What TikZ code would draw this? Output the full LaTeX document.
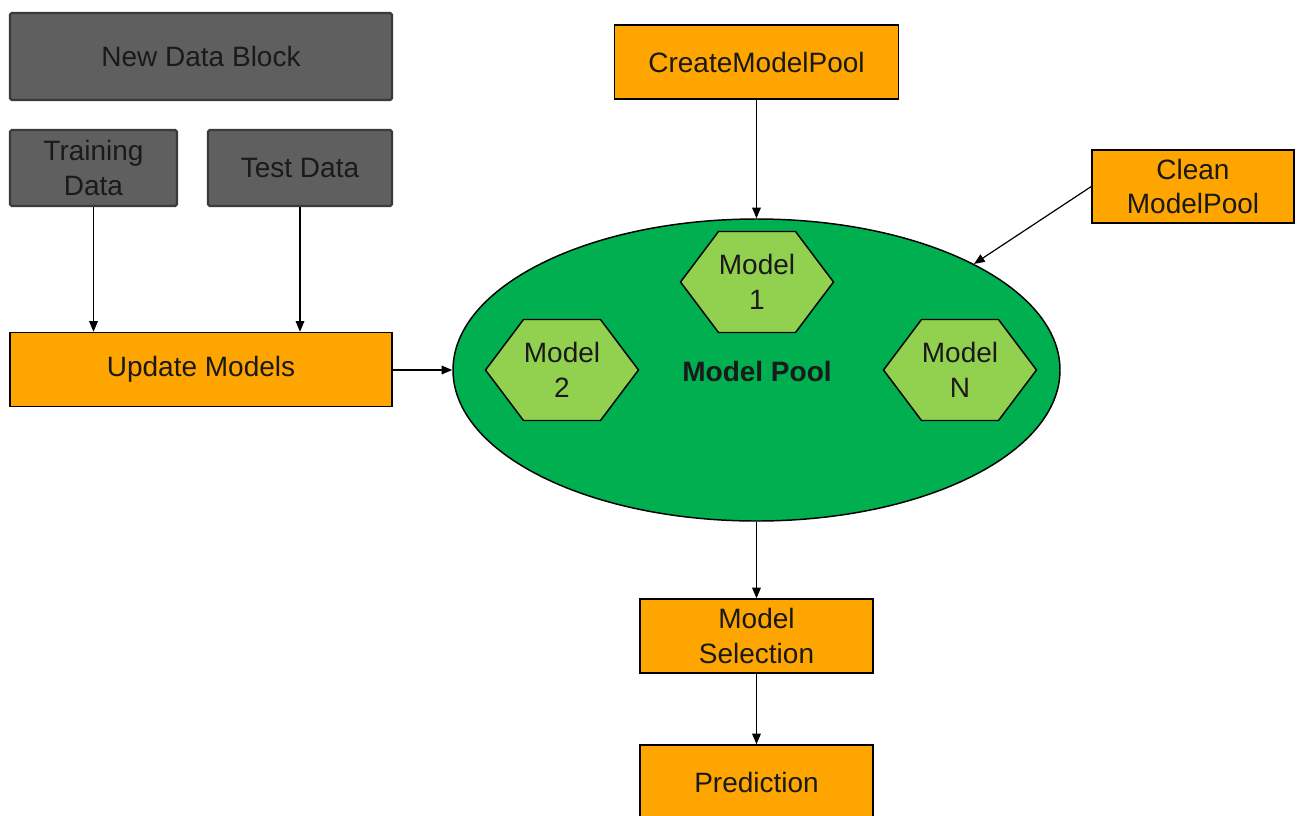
\documentclass[tikz,border=0pt]{standalone}
\usepackage{fontspec}
\setmainfont{Liberation Sans}
\usetikzlibrary{arrows.meta,shapes.geometric}
\definecolor{boxgray}{HTML}{5F5F5F}
\definecolor{edgegray}{HTML}{3A3A3A}
\definecolor{txtgray}{HTML}{1A1A1A}
\definecolor{orng}{HTML}{FFA500}
\definecolor{poolgreen}{HTML}{00B050}
\definecolor{hexgreen}{HTML}{92D050}
\tikzset{
  sz/.style 2 args={minimum width=#1*0.75pt, minimum height=#2*0.75pt},
  base/.style={inner sep=0pt, align=center, font=\fontsize{21}{26}\selectfont, text=txtgray},
  graybox/.style={base, fill=boxgray, draw=edgegray, line width=1.6pt, rounded corners=1.2pt},
  orangebox/.style={base, fill=orng, draw=black, line width=1.1pt, text=black!90},
  poolshape/.style={ellipse, fill=poolgreen, draw=black, line width=1.1pt, inner sep=0pt},
  hexlabel/.style={base, text=txtgray},
  arr/.style={-{Triangle[length=8pt,width=6.5pt]}, line width=0.9pt, draw=black},
  hexa/.pic={\filldraw[fill=hexgreen, draw=black, line width=1.1pt]
     (-76.5,0) -- (-38.5,-50.5) -- (38.5,-50.5) -- (76.5,0) -- (38.5,50.5) -- (-38.5,50.5) -- cycle;}
}
\begin{document}
\begin{tikzpicture}[x=0.75pt,y=-0.75pt]
\useasboundingbox (0,0) rectangle (1297,815);
\begin{scope}
\clip (0,0) rectangle (1297,815);
% gray data boxes
\node[graybox, sz={382}{87}] (ndb) at (201,56.5) {New Data Block};
\node[graybox, sz={167}{76}] (train) at (93.5,168) {Training\\Data};
\node[graybox, sz={184}{76}] (test) at (300,168) {Test Data};
% orange boxes
\node[orangebox, sz={382}{74}] (upd) at (201,369.5) {Update Models};
\node[orangebox, sz={284}{74}] (create) at (756.5,62) {CreateModelPool};
\node[orangebox, sz={202}{73}] (clean) at (1193,186.5) {Clean\\ModelPool};
\node[orangebox, sz={233}{74}] (sel) at (756.5,636) {Model\\Selection};
\node[orangebox, sz={233}{100}] (pred) at (756.5,795) {};
\node[base, text=black!90] (predtxt) at (756.5,782) {Prediction};
% model pool
\node[poolshape, sz={607}{302}] (pool) at (756.5,370) {};
\pic at (757,282) {hexa};
\pic at (562,370) {hexa};
\pic at (960,370) {hexa};
\node[hexlabel] (m1) at (757,282) {Model\\1};
\node[hexlabel] (m2) at (562,370) {Model\\2};
\node[hexlabel] (mn) at (960,370) {Model\\N};
\node[base, font=\fontsize{21}{26}\selectfont\bfseries] (pooltxt) at (757,371) {Model Pool};
% connectors
\draw[arr] (train.south) -- (train.south |- upd.north);
\draw[arr] (test.south) -- (test.south |- upd.north);
\draw[arr] (upd.east |- pool.west) -- (pool.west);
\draw[arr] (create.south) -- (pool.north);
\draw[arr] (clean.west) -- (pool.26.5);
\draw[arr] (pool.south) -- (sel.north);
\draw[arr] (sel.south) -- (pred.north);
\end{scope}
\end{tikzpicture}
\end{document}
